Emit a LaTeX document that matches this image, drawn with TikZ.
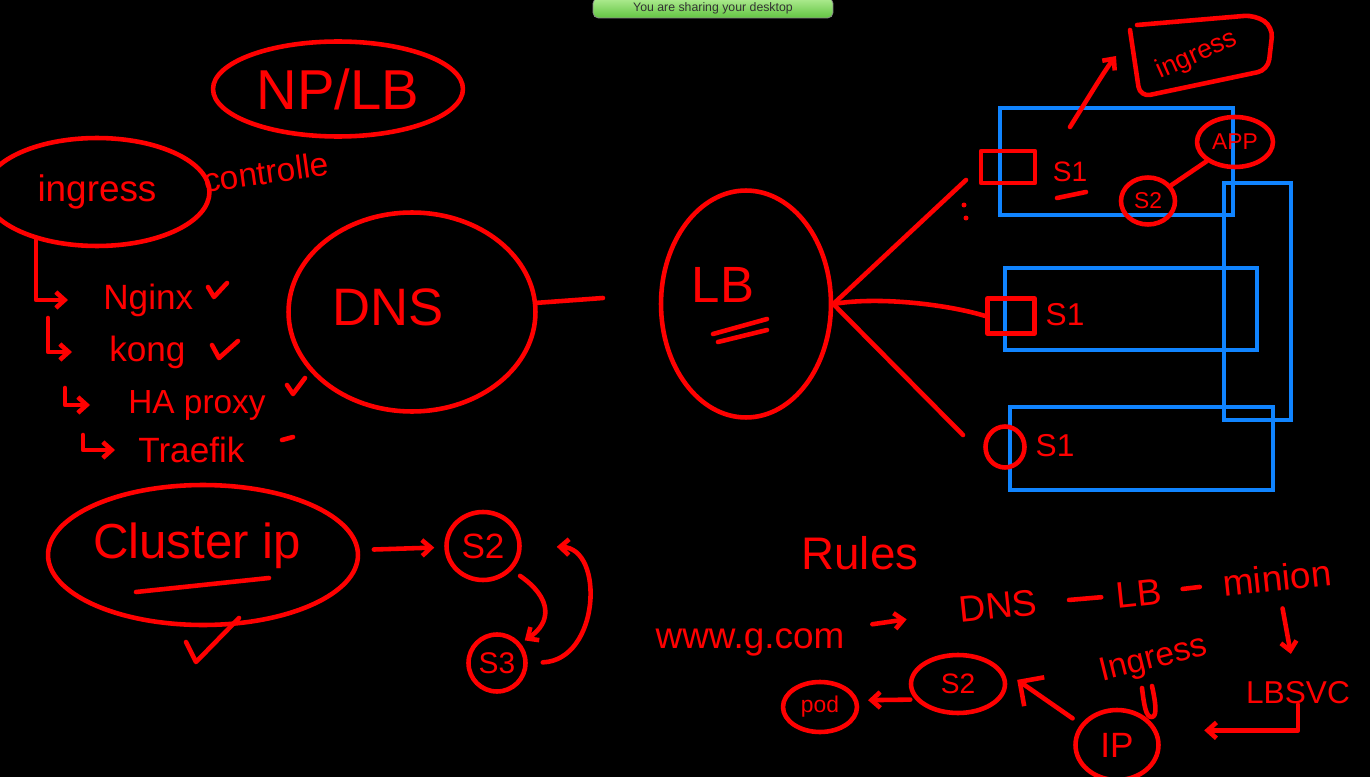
\documentclass[tikz,border=0pt]{standalone}
\usepackage{fontspec}
\newfontfamily\handfont{Liberation Sans}
\usepackage{tikz}
\usetikzlibrary{shapes.geometric,arrows.meta}
\definecolor{inkred}{RGB}{255,0,0}
\definecolor{boxblue}{RGB}{16,132,255}
\definecolor{bannertop}{RGB}{176,236,146}
\definecolor{bannerbot}{RGB}{98,196,66}
\newcommand{\hand}[1]{\fontsize{#1}{#1}\selectfont\handfont}

\tikzset{
	ink/.style={draw=inkred, line width=2.6pt, line cap=round, line join=round},
	bubble/.style={ellipse, ink, inner sep=0pt, text=inkred},
	scrawl/.style={text=inkred, inner sep=0pt},
	vmbox/.style={draw=boxblue, line width=2.6pt},
}

\begin{document}
\begin{tikzpicture}[x=0.02cm, y=-0.02cm, >={Straight Barb[length=5pt,width=9pt]}]
		%Board
		\fill[black] (0,0) rectangle (1370,777);
		\useasboundingbox (0,0) rectangle (1370,777);
		\clip (0,0) rectangle (1370,777);
		\node[draw=black!45, rounded corners=3pt, top color=bannertop, bottom color=bannerbot, minimum width=4.8cm, minimum height=0.4cm, inner sep=0pt, text=black!80, font=\fontsize{7}{7}\selectfont\handfont] (banner) at (713,8) {You are sharing your desktop};
		
		%Ingress controllers
		\node[bubble, minimum width=5cm, minimum height=1.9cm, font=\hand{32}] (nplb) at (338,89) {NP/LB};
		\node[bubble, minimum width=4.5cm, minimum height=2.16cm, font=\hand{21}] (ingell) at (97,192) {ingress};
		\node[scrawl, font=\hand{19}, rotate=8] (ctrl) at (266,172) {controlle};
		\node[scrawl, font=\hand{20}, anchor=west] (nginx) at (103,300) {Nginx};
		\node[scrawl, font=\hand{20}, anchor=west] (kong) at (109,352) {kong};
		\node[scrawl, font=\hand{19}, anchor=west] (haproxy) at (128,405) {HA proxy};
		\node[scrawl, font=\hand{20}, anchor=west] (traefik) at (138,450) {Traefik};
		\coordinate (hk2) at (48,318);
		\coordinate (hk3) at (65,388);
		\coordinate (hk4) at (83,435);
		\draw[ink,->,shorten >=0.7cm] (ingell.218) |- (nginx.west);
		\draw[ink,->,shorten >=0.74cm] (hk2) |- (kong.west);
		\draw[ink,->,shorten >=0.76cm] (hk3) |- (haproxy.west);
		\draw[ink,->,shorten >=0.46cm] (hk4) |- (traefik.west);
		\draw[ink] (208,287) -- (214,297) -- (227,283);
		\draw[ink] (212,345) -- (219,358) -- (238,341);
		\draw[ink] (287,385) -- (293,394) -- (305,378);
		\draw[ink] (282,440) -- (293,437);
		
		%DNS and LB
		\node[bubble, minimum width=4.94cm, minimum height=3.98cm] (dns) at (412,312) {};
		\node[scrawl, font=\hand{30}] (dnstxt) at (388,307) {DNS};
		\coordinate (dnsend) at (603,298);
		\draw[ink] (dns) -- (dnsend);
		\node[bubble, minimum width=3.4cm, minimum height=4.54cm] (lb) at (746,304) {};
		\node[scrawl, font=\hand{29}] (lbtxt) at (723,285) {LB};
		\draw[ink] (713,334) -- (767,319);
		\draw[ink] (718,342) -- (767,330);
		
		%Nodes
		\draw[vmbox] (1000,108) rectangle (1233,215);
		\draw[vmbox] (1005,268) rectangle (1257,350);
		\draw[vmbox] (1010,407) rectangle (1273,490);
		\draw[vmbox] (1224,183) rectangle (1291,420);
		\node[ink, inner sep=0pt, minimum width=1.08cm, minimum height=0.64cm] (port1) at (1008,167) {};
		\node[ink, inner sep=0pt, minimum width=0.94cm, minimum height=0.7cm] (port2) at (1011,316) {};
		\node[bubble, minimum width=0.78cm, minimum height=0.82cm] (port3) at (1005,447) {};
		\coordinate (toport1) at (966,180);
		\coordinate (toport3) at (963,435);
		\draw[ink] (lb.east) -- (toport1);
		\draw[ink] (lb.east) .. controls (880,296) and (950,305) .. (port2.west);
		\draw[ink] (lb.east) -- (toport3);
		\fill[inkred] (964,205) circle (0.05cm);
		\fill[inkred] (966,218) circle (0.05cm);
		\node[scrawl, font=\hand{16}] (s1a) at (1070,172) {S1};
		\draw[ink] (1057,198) -- (1086,192);
		\node[scrawl, font=\hand{18}] (s1b) at (1065,315) {S1};
		\node[scrawl, font=\hand{18}] (s1c) at (1055,446) {S1};
		\node[bubble, minimum width=1.52cm, minimum height=1cm, font=\hand{13}] (app) at (1235,142) {APP};
		\node[bubble, minimum width=1.08cm, minimum height=0.94cm, font=\hand{13}] (s2a) at (1148,201) {S2};
		\draw[ink] (s2a) -- (app);
		\draw[ink, rounded corners=6pt] (1130,30) -- (1140,97) -- (1268,70) -- (1273,27) -- (1255,15) -- (1137,25);
		\node[scrawl, font=\hand{15}, rotate=24] (ingbox) at (1197,55) {ingress};
		\coordinate (vmtop) at (1070,127);
		\coordinate (inghook) at (1116,56);
		\draw[ink,->] (vmtop) .. controls (1090,95) and (1105,70) .. (inghook);
		
		%Cluster ip
		\node[bubble, minimum width=6.2cm, minimum height=2.8cm] (cip) at (203,555) {};
		\node[scrawl, font=\hand{28}] (ciptxt) at (197,546) {Cluster ip};
		\draw[ink] (136,592) -- (269,578);
		\draw[ink] (186,642) -- (196,662) -- (239,618);
		\node[bubble, minimum width=1.46cm, minimum height=1.36cm, font=\hand{20}] (s2b) at (483,546) {S2};
		\node[bubble, minimum width=1.14cm, minimum height=1.14cm, font=\hand{17}] (s3b) at (497,663) {S3};
		\draw[ink,->,shorten <=0.28cm,shorten >=0.2cm] (cip) -- (s2b);
		\draw[ink,->,shorten <=0.2cm,shorten >=0.1cm] (s2b.-40) .. controls (552,598) and (552,622) .. (s3b.40);
		\draw[ink,->,shorten <=0.3cm,shorten >=0.7cm] (s3b.east) .. controls (600,660) and (605,548) .. (s2b.east);
		
		%Rules
		\node[scrawl, font=\hand{26}] (rules) at (860,553) {Rules};
		\node[scrawl, font=\hand{21}] (www) at (750,642) {www.g.com};
		\node[scrawl, font=\hand{21}, rotate=6] (dnsw) at (998,606) {DNS};
		\node[scrawl, font=\hand{21}, rotate=6] (lbw) at (1139,594) {LB};
		\node[scrawl, font=\hand{21}, rotate=6] (minion) at (1277,578) {minion};
		\draw[ink,->,shorten <=0.56cm,shorten >=1.06cm] (www) -- (dnsw);
		\draw[ink,shorten <=0.64cm,shorten >=0.3cm] (dnsw) -- (lbw);
		\draw[ink,shorten <=0.42cm,shorten >=0.46cm] (lbw) -- (minion);
		\node[scrawl, font=\hand{18}] (lbsvc) at (1298,693) {LBSVC};
		\draw[ink,->,shorten <=0.34cm,shorten >=0.56cm] (minion) -- (lbsvc);
		\node[bubble, minimum width=1.66cm, minimum height=1.4cm, font=\hand{20}] (ipc) at (1117,745) {IP};
		\node[scrawl, font=\hand{19}, rotate=14] (ingtxt) at (1154,660) {Ingress};
		\draw[ink] (1142,688) .. controls (1144,705) and (1146,718) .. (1152,717) .. controls (1158,716) and (1155,700) .. (1152,686);
		\draw[ink,->,shorten >=0.94cm] (lbsvc.south) |- (ipc.20);
		\node[bubble, minimum width=1.88cm, minimum height=1.16cm, font=\hand{16}] (s2c) at (958,684) {S2};
		\node[bubble, minimum width=1.48cm, minimum height=1cm, font=\hand{13}] (pod) at (820,707) {pod};
		\draw[ink,-{Straight Barb[length=10pt,width=20pt]},shorten <=0.2cm,shorten >=0.4cm] (ipc.150) -- (s2c.20);
		\draw[ink,->,shorten <=0.1cm,shorten >=0.2cm] (s2c.200) -- (pod.10);
\end{tikzpicture}
\end{document}
